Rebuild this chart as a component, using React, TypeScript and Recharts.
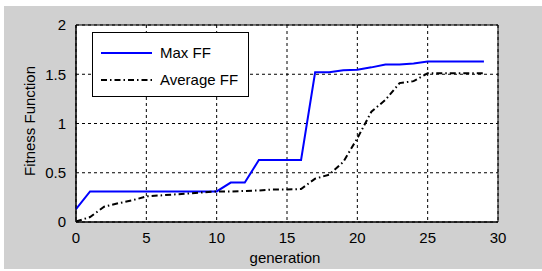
import React from "react";
import {
  LineChart,
  Line,
  XAxis,
  YAxis,
  CartesianGrid,
  ReferenceArea,
} from "recharts";

// generation index
const generations = [
  0, 1, 2, 3, 4, 5, 6, 7, 8, 9, 10, 11, 12, 13, 14, 15, 16, 17, 18, 19, 20,
  21, 22, 23, 24, 25, 26, 27, 28, 29,
];

// best fitness per generation
const maxFF = [
  0.13, 0.31, 0.31, 0.31, 0.31, 0.31, 0.31, 0.31, 0.31, 0.31, 0.31, 0.4, 0.4,
  0.63, 0.63, 0.63, 0.63, 1.52, 1.52, 1.54, 1.545, 1.57, 1.6, 1.6, 1.61, 1.63,
  1.63, 1.63, 1.63, 1.63,
];

// mean fitness per generation
const avgFF = [
  0.005, 0.05, 0.155, 0.19, 0.22, 0.26, 0.27, 0.28, 0.29, 0.3, 0.31, 0.31,
  0.315, 0.32, 0.33, 0.33, 0.335, 0.44, 0.48, 0.61, 0.85, 1.12, 1.24, 1.41,
  1.43, 1.51, 1.51, 1.51, 1.51, 1.51,
];

const xTicks = [0, 5, 10, 15, 20, 25, 30];
const yTicks = [0, 0.5, 1, 1.5, 2];

const seriesNames = ["Max FF", "Average FF"];

const data = generations.map((g, i) => ({
  gen: g,
  max: maxFF[i],
  avg: avgFF[i],
}));

const FONT = "'Liberation Sans', Arial, sans-serif";
const AVG_DASH = "6 3 1.5 3";

function LegendBox() {
  const rows = [
    { label: seriesNames[0], color: "#0000ff", dash: undefined as string | undefined },
    { label: seriesNames[1], color: "#000", dash: AVG_DASH },
  ];
  return (
    <div
      style={{
        position: "absolute",
        left: 92,
        top: 32,
        width: 157,
        height: 65,
        background: "#fff",
        border: "1px solid #000",
        boxSizing: "border-box",
        fontFamily: FONT,
        fontSize: 15,
        color: "#000",
        paddingTop: 6,
      }}
    >
      {rows.map((r) => (
        <div
          key={r.label}
          style={{ display: "flex", alignItems: "center", height: 27 }}
        >
          <svg width={67} height={10} style={{ flex: "none" }}>
            <line
              x1={8}
              x2={59}
              y1={5}
              y2={5}
              stroke={r.color}
              strokeWidth={2}
              strokeDasharray={r.dash}
            />
          </svg>
          <span>{r.label}</span>
        </div>
      ))}
    </div>
  );
}

export default function App() {
  return (
    <div
      style={{
        position: "absolute",
        left: 0,
        top: 0,
        width: 542,
        height: 271,
        background: "#fff",
      }}
    >
      <div
        style={{
          position: "absolute",
          left: 4,
          top: 6,
          width: 538,
          height: 263,
          background: "#d0d0d0",
        }}
      />
      <div style={{ position: "absolute", left: 0, top: 0 }}>
        <LineChart
          width={542}
          height={271}
          data={data}
          margin={{ top: 25, right: 44, bottom: 19, left: 36 }}
        >
          <CartesianGrid
            fill="#fff"
            stroke="#000"
            strokeDasharray="3 3"
            verticalValues={xTicks}
            horizontalValues={yTicks}
          />
          <XAxis
            dataKey="gen"
            type="number"
            domain={[0, 30]}
            ticks={xTicks}
            height={30}
            axisLine={{ stroke: "#000" }}
            tickLine={false}
            tickMargin={4}
            tick={{ fill: "#000", fontSize: 15, fontFamily: FONT }}
          />
          <YAxis
            type="number"
            domain={[0, 2]}
            ticks={yTicks}
            width={40}
            axisLine={{ stroke: "#000" }}
            tickLine={false}
            tickMargin={4}
            tick={{ fill: "#000", fontSize: 15, fontFamily: FONT }}
          />
          <ReferenceArea
            x1={0}
            x2={30}
            y1={0}
            y2={2}
            fill="none"
            stroke="#000"
            strokeWidth={1}
          />
          <Line
            dataKey="max"
            name={seriesNames[0]}
            stroke="#0000ff"
            strokeWidth={2}
            dot={false}
            isAnimationActive={false}
          />
          <Line
            dataKey="avg"
            name={seriesNames[1]}
            stroke="#000"
            strokeWidth={2}
            strokeDasharray={AVG_DASH}
            dot={false}
            isAnimationActive={false}
          />
        </LineChart>
      </div>
      <LegendBox />
      <div
        style={{
          position: "absolute",
          left: 285,
          top: 257,
          transform: "translate(-50%, -50%)",
          fontFamily: FONT,
          fontSize: 15,
          color: "#000",
          whiteSpace: "nowrap",
        }}
      >
        generation
      </div>
      <div
        style={{
          position: "absolute",
          left: 29,
          top: 121,
          transform: "translate(-50%, -50%) rotate(-90deg)",
          fontFamily: FONT,
          fontSize: 15,
          color: "#000",
          whiteSpace: "nowrap",
        }}
      >
        Fitness Function
      </div>
    </div>
  );
}
